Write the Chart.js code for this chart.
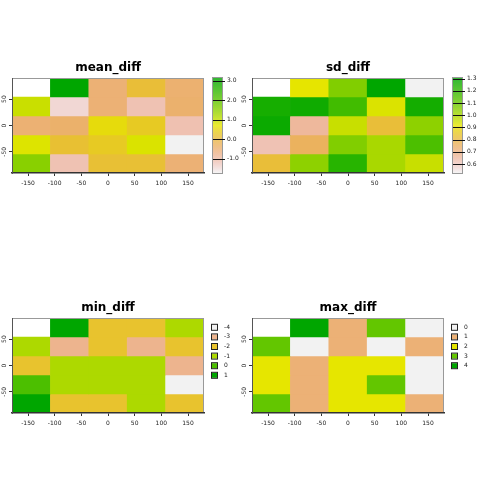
<!DOCTYPE html>
<html><head><meta charset="utf-8">
<script src="https://cdn.jsdelivr.net/npm/chart.js@4/dist/chart.umd.min.js"></script>
<style>
html,body{margin:0;padding:0;background:#fff;}
#wrap{position:relative;width:480px;height:480px;background:#fff;}
.p{position:absolute;width:240px;height:240px;}
canvas{display:block}
</style></head><body>
<div id="wrap">
<div class="p" style="left:0;top:0"><canvas id="c0" width="240" height="240"></canvas></div>
<div class="p" style="left:240px;top:0"><canvas id="c1" width="240" height="240"></canvas></div>
<div class="p" style="left:0;top:240px"><canvas id="c2" width="240" height="240"></canvas></div>
<div class="p" style="left:240px;top:240px"><canvas id="c3" width="240" height="240"></canvas></div>
</div>
<script>
// ---- data ----
const lonCenters = [-144, -72, 0, 72, 144];
const lonRange = [-180, 180];
const latEdges = [90, 54, 18, -18, -54, -90]; // row i spans latEdges[i+1]..latEdges[i]
const xTicks = [-150, -100, -50, 0, 50, 100, 150];
const yTicks = [-50, 0, 50];

const titles = ['mean_diff', 'sd_diff', 'min_diff', 'max_diff'];

// null = no data (cell left blank)
const meanDiff = [
  [null, 3.14, -0.50, 0.12, -0.45],
  [0.95, -1.44, -0.50, -1.12, -0.42],
  [-0.48, -0.40, 0.58, 0.34, -1.10],
  [0.78, 0.17, 0.34, 0.80, -1.73],
  [1.53, -1.12, 0.15, 0.15, -0.50]
];
const sdDiff = [
  [null, 0.915, 1.06, 1.305, 0.526],
  [1.255, 1.27, 1.17, 0.93, 1.26],
  [1.28, 0.66, 0.955, 0.82, 1.04],
  [0.623, 0.76, 1.06, 1.00, 1.15],
  [0.82, 1.04, 1.22, 1.00, 0.955]
];
const minDiff = [
  [null, 1, -2, -2, -1],
  [-1, -3, -2, -3, -2],
  [-2, -1, -1, -1, -3],
  [0, -1, -1, -1, -4],
  [1, -2, -2, -1, -2]
];
const maxDiff = [
  [null, 4, 1, 3, 0],
  [3, 0, 1, 0, 1],
  [2, 1, 2, 2, 0],
  [2, 1, 2, 3, 0],
  [3, 1, 2, 2, 1]
];
const meanTicks = [-1, 0, 1, 2, 3];
const sdTicks = [0.6, 0.7, 0.8, 0.9, 1.0, 1.1, 1.2, 1.3];
const minClasses = [-4, -3, -2, -1, 0, 1];
const maxClasses = [0, 1, 2, 3, 4];

// ---- colours: reversed terrain palette ----
function hsv2rgb(h, s, v) {
  const c = v * s, hp = h / 60, x = c * (1 - Math.abs(hp % 2 - 1));
  let r = 0, g = 0, b = 0;
  if (hp < 1) { r = c; g = x; } else if (hp < 2) { r = x; g = c; }
  else if (hp < 3) { g = c; b = x; } else if (hp < 4) { g = x; b = c; }
  else if (hp < 5) { r = x; b = c; } else { r = c; b = x; }
  const m = v - c;
  return [Math.round((r + m) * 255), Math.round((g + m) * 255), Math.round((b + m) * 255)];
}
function terrainRev(t, a) {
  t = Math.max(0, Math.min(1, t));
  const u = 1 - t; let h, s, v;
  if (u <= 0.5) { const p = u / 0.5; h = 120 - 60 * p; s = 1; v = 0.65 + 0.25 * p; }
  else { const w = (u - 0.5) / 0.5; h = 60 * (1 - w); s = 1 - w; v = 0.9 + 0.05 * w; }
  const [r, g, b] = hsv2rgb(h, s, v);
  return a === undefined ? `rgb(${r},${g},${b})` : `rgba(${r},${g},${b},${a})`;
}

const FONT = 'DejaVu Sans';

function makeChart(id, title, grid, cfg) {
  const flat = grid.flat().filter(v => v !== null);
  const lo = cfg.classes ? Math.min(...cfg.classes) : Math.min(...flat);
  const hi = cfg.classes ? Math.max(...cfg.classes) : Math.max(...flat);
  const col = v => v === null ? 'rgba(0,0,0,0)' : terrainRev((v - lo) / (hi - lo));

  const datasets = grid.map((row, i) => ({
    data: row.map((v, j) => ({ x: lonCenters[j], y: v === null ? null : [latEdges[i + 1], latEdges[i]] })),
    backgroundColor: row.map(col),
    xAxisID: 'x', yAxisID: 'y', stack: 'cells',
    barThickness: 'flex', barPercentage: 1, categoryPercentage: 1,
    borderWidth: 0, borderSkipped: false
  }));

  const scales = {
    x: { type: 'linear', position: 'bottom', stacked: true, offset: false, min: lonRange[0], max: lonRange[1],
      afterBuildTicks: s => { s.ticks = xTicks.map(v => ({ value: v })); },
      afterFit: s => { s.height = 20; },
      grid: { offset: false, drawOnChartArea: false, drawTicks: true, tickLength: 3, color: '#333' },
      border: { color: '#333', width: 1.5, z: 2 },
      ticks: { font: { family: FONT, size: 6 }, color: '#222', padding: 4, maxRotation: 0, autoSkip: false,
        callback: v => String(v) } },
    y: { type: 'linear', position: 'left', stacked: false, min: latEdges[latEdges.length - 1], max: latEdges[0],
      afterBuildTicks: s => { s.ticks = yTicks.map(v => ({ value: v })); },
      afterFit: s => { s.width = 12; },
      grid: { drawOnChartArea: false, drawTicks: true, tickLength: 3, color: '#333' },
      border: { color: '#555', width: 1, z: 2 },
      ticks: { font: { family: FONT, size: 6 }, color: '#222', padding: 0, minRotation: 90, maxRotation: 90,
        crossAlign: 'center', autoSkip: false, callback: v => String(v) } }
  };
  if (!cfg.classes) {
    scales.cb = { type: 'linear', axis: 'y', position: 'right', min: lo, max: hi,
      afterBuildTicks: s => { s.ticks = cfg.ticks.map(v => ({ value: v })); },
      afterFit: s => { s.width = 36; },
      grid: { drawOnChartArea: false, drawTicks: false },
      border: { display: false },
      ticks: { font: { family: FONT, size: 6 }, color: '#222', padding: 23, autoSkip: false,
        callback: v => Number(v).toFixed(1) } };
  }

  const framePlugin = {
    id: 'frame',
    afterDatasetsDraw(chart) {
      const { ctx, chartArea: a } = chart;
      ctx.save();
      ctx.strokeStyle = '#999'; ctx.lineWidth = 1;
      ctx.beginPath();
      ctx.moveTo(a.left, a.top + 0.5); ctx.lineTo(a.right, a.top + 0.5);
      ctx.moveTo(a.right - 0.5, a.top); ctx.lineTo(a.right - 0.5, a.bottom);
      ctx.stroke();
      ctx.restore();
    }
  };

  const legendPlugin = {
    id: 'keys',
    afterDraw(chart) {
      const { ctx, chartArea: a } = chart;
      ctx.save();
      if (cfg.classes) {
        ctx.font = `6px "${FONT}"`; ctx.textBaseline = 'middle'; ctx.textAlign = 'left';
        cfg.classes.forEach((c, k) => {
          const yc = a.top + 9.3 + k * 9.6;
          ctx.fillStyle = col(c);
          ctx.fillRect(a.right + 8, yc - 2.5, 5, 5);
          ctx.strokeStyle = '#222'; ctx.lineWidth = 1;
          ctx.strokeRect(a.right + 7.5, yc - 3, 6, 6);
          ctx.fillStyle = '#222';
          ctx.fillText(String(c), a.right + 20, yc);
        });
      } else {
        const cb = chart.scales.cb;
        const yTop = cb.getPixelForValue(hi), yBot = cb.getPixelForValue(lo);
        const x0 = a.right + 9, w = 9;
        const grad = ctx.createLinearGradient(0, yBot, 0, yTop);
        for (let k = 0; k <= 40; k++) grad.addColorStop(k / 40, terrainRev(k / 40, 0.8));
        ctx.fillStyle = grad;
        ctx.fillRect(x0, yTop, w, yBot - yTop);
        ctx.strokeStyle = '#999'; ctx.lineWidth = 1;
        ctx.strokeRect(x0 - 0.5, yTop - 0.5, w + 1, yBot - yTop + 1);
        ctx.strokeStyle = '#111';
        cfg.ticks.forEach(v => {
          const yy = Math.round(cb.getPixelForValue(v)) + 0.5;
          ctx.beginPath(); ctx.moveTo(x0, yy); ctx.lineTo(x0 + w + 3, yy); ctx.stroke();
        });
      }
      ctx.restore();
    }
  };

  return new Chart(document.getElementById(id), {
    type: 'bar',
    data: { datasets },
    options: {
      responsive: false, animation: false, devicePixelRatio: 1,
      layout: { padding: { top: 0, left: 0, right: cfg.classes ? 36 : 0, bottom: 47 } },
      scales,
      plugins: {
        legend: { display: false }, tooltip: { enabled: false },
        title: { display: true, text: title, fullSize: false, color: '#000',
          font: { family: FONT, size: 12, weight: 'bold' }, padding: { top: 61, bottom: 2.6 } }
      }
    },
    plugins: [framePlugin, legendPlugin]
  });
}

makeChart('c0', titles[0], meanDiff, { ticks: meanTicks });
makeChart('c1', titles[1], sdDiff, { ticks: sdTicks });
makeChart('c2', titles[2], minDiff, { classes: minClasses });
makeChart('c3', titles[3], maxDiff, { classes: maxClasses });
</script>
</body></html>
